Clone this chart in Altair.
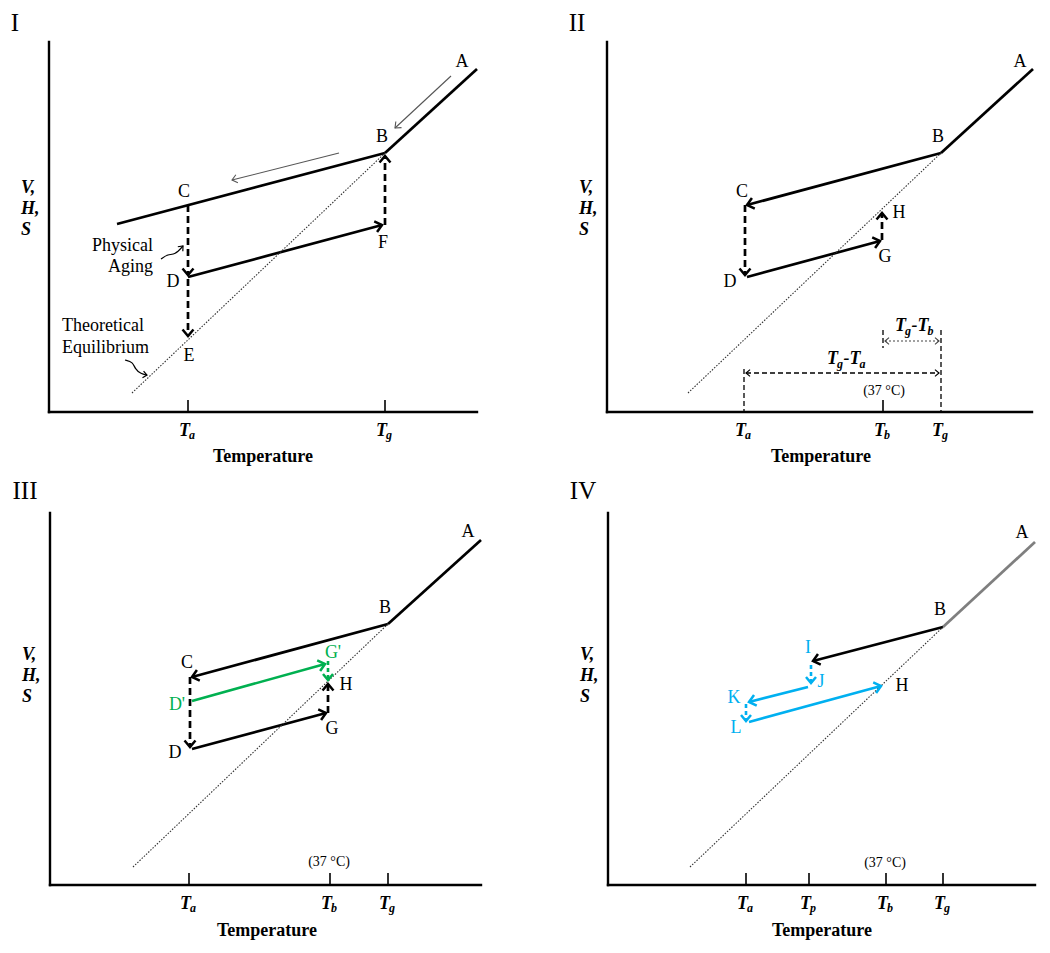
import math
import altair as alt
import pandas as pd

FONT = "Liberation Serif"
BLACK, GREEN, CYAN, GREY, THIN = "#000000", "#00B050", "#00B0F0", "#7F7F7F", "#555555"

CHART_W, CHART_H = 1034, 937

# ---- panel frames (global units) -------------------------------------------
PANELS = ["I", "II", "III", "IV"]
ORIGIN_X = [41, 599, 42, 600]
ORIGIN_Y = [533, 533, 60, 60]
Y_AXIS_TOP = [370, 370, 372, 372]
X_AXIS_END = [428, 425, 431, 427]
TEMP_TITLE_Y = [-50, -50, -51, -51]
ROMAN_XY = [(-34, 381), (-30, 381), (-25, 386), (-25, 386)]
VHS_Y = [[224, 203, 182], [224, 203, 182], [230, 209, 188], [230, 209, 188]]

# ---- temperature ticks ------------------------------------------------------
TICK_POS = {
    "I": [("a", 139), ("g", 336)],
    "II": [("a", 137), ("b", 276), ("g", 334)],
    "III": [("a", 139), ("b", 280), ("g", 338)],
    "IV": [("a", 138), ("p", 201), ("b", 278), ("g", 335)],
}
SOLID_TICKS = {"I": ["a", "g"], "II": ["b"], "III": ["a", "b", "g"], "IV": ["a", "p", "b", "g"]}
TICK_LEN = 12

# ---- path segments: (x1, y1, x2, y2, style, heads) ---------------------------
SEG = {
    "I": [
        (68, 188, 336, 259, "solid", "none"),
        (336, 259, 428, 343, "solid", "none"),
        (139, 135, 333, 187, "solid", "end"),
        (139, 207, 139, 137, "dash", "end"),
        (139, 133, 139, 76, "dash", "end"),
        (336, 187, 336, 256, "dash", "end"),
        (83, 19, 336, 259, "eq", "none"),
        (402, 336, 346, 284, "thin", "end"),
        (290, 259, 183, 232, "thin", "end"),
    ],
    "II": [
        (334, 259, 426, 343, "solid", "none"),
        (334, 259, 140, 207, "solid", "end"),
        (138, 207, 138, 137, "dash", "end"),
        (140, 135, 273, 171, "solid", "end"),
        (275, 172, 275, 199, "dash", "end"),
        (81, 19, 334, 259, "eq", "none"),
        (276, 82, 276, 64, "dimdash", "none"),
        (334, 82, 334, 0, "dimdash", "none"),
        (137, 43, 137, 0, "dimdash", "none"),
        (139, 39, 332, 39, "dimdash", "both"),
        (278, 71, 332, 71, "dimdot", "both"),
    ],
    "III": [
        (338, 261, 431, 345, "solid", "none"),
        (338, 261, 142, 208, "solid", "end"),
        (140, 208, 140, 138, "dash", "end"),
        (142, 136, 276, 172, "solid", "end"),
        (278, 172, 278, 201, "dash", "end"),
        (83, 18, 338, 261, "eq", "none"),
        (142, 184, 275, 221, "green", "end"),
        (278, 224, 278, 205, "greendash", "end"),
    ],
    "IV": [
        (335, 258, 427, 343, "grey", "none"),
        (335, 258, 205, 224, "solid", "end"),
        (203, 220, 203, 202, "cyandash", "end"),
        (200, 198, 141, 183, "cyan", "end"),
        (138, 181, 138, 164, "cyandash", "end"),
        (141, 163, 273, 199, "cyan", "end"),
        (82, 18, 335, 258, "eq", "none"),
    ],
}

# style -> colour, width, dash, arrow-head size, head width
STYLES = {
    "axis": (BLACK, 2.4, (), 0, 0),
    "tick": (BLACK, 1.6, (), 0, 0),
    "solid": (BLACK, 2.7, (), 120, 2.5),
    "dash": (BLACK, 2.7, (7, 4), 120, 2.5),
    "eq": ("#333333", 1.1, (1.5, 1.5), 0, 0),
    "thin": (THIN, 1.1, (), 70, 1.1),
    "dimdash": (BLACK, 1.3, (5, 3), 45, 1.2),
    "dimdot": ("#444444", 1.2, (2, 2), 45, 1.1),
    "green": (GREEN, 2.6, (), 120, 2.5),
    "greendash": (GREEN, 2.6, (4, 3), 100, 2.5),
    "cyan": (CYAN, 2.6, (), 120, 2.5),
    "cyandash": (CYAN, 2.6, (4, 3), 100, 2.5),
    "grey": (GREY, 2.7, (), 0, 0),
    "curl": (BLACK, 1.2, (), 45, 1.2),
}

# ---- curly pointer arrows (panel I) ---------------------------------------
CURLS = {
    "phys": [(112, 153), (119, 158), (126, 157), (134, 166)],
    "theo": [(76, 52), (84, 50), (86, 43), (92, 38), (98, 37)],
}

# ---- point labels: (panel, x, y, text, colour) -----------------------------
LETTERS = [
    ("I", 413, 350, "A", BLACK), ("I", 333, 275, "B", BLACK), ("I", 135, 220, "C", BLACK),
    ("I", 124, 130, "D", BLACK), ("I", 140, 56, "E", BLACK), ("I", 334, 169, "F", BLACK),
    ("II", 413, 350, "A", BLACK), ("II", 331, 275, "B", BLACK), ("II", 135, 220, "C", BLACK),
    ("II", 123, 130, "D", BLACK), ("II", 278, 155, "G", BLACK), ("II", 292, 199, "H", BLACK),
    ("III", 418, 353, "A", BLACK), ("III", 335, 277, "B", BLACK), ("III", 137, 222, "C", BLACK),
    ("III", 125, 132, "D", BLACK), ("III", 282, 156, "G", BLACK), ("III", 296, 200, "H", BLACK),
    ("III", 127, 180, "D'", GREEN), ("III", 283, 232, "G'", GREEN),
    ("IV", 414, 352, "A", BLACK), ("IV", 332, 275, "B", BLACK), ("IV", 294, 199, "H", BLACK),
    ("IV", 200, 237, "I", CYAN), ("IV", 213, 203, "J", CYAN),
    ("IV", 126, 187, "K", CYAN), ("IV", 128, 157, "L", CYAN),
]
NOTES = [  # panel, x, y, text, align
    ("I", 104, 166, "Physical", "right"), ("I", 104, 145, "Aging", "right"),
    ("I", 13, 86, "Theoretical", "left"), ("I", 13, 64, "Equilibrium", "left"),
]
TEMP_37 = [("II", 277, 17), ("III", 279, 19), ("IV", 277, 18)]
DIM_LABELS = [("II", 288, 81, "g", "b"), ("II", 220, 48, "g", "a")]

ARROW_PATH = "M-1.2,-1L0,0L-1.2,1"

# ---------------------------------------------------------------------------
idx = {p: i for i, p in enumerate(PANELS)}


def gxy(panel, x, y):
    i = idx[panel]
    return ORIGIN_X[i] + x, ORIGIN_Y[i] + y


seg_rows, head_rows, text_rows, line_rows = [], [], [], []


def add_seg(panel, x1, y1, x2, y2, style, heads="none", layer=None):
    col, w, dash, hs, hw = STYLES[style]
    a = gxy(panel, x1, y1)
    b = gxy(panel, x2, y2)
    seg_rows.append(dict(gx=a[0], gy=a[1], gx2=b[0], gy2=b[1], color=col, width=w,
                         dash=layer or ("d" + "_".join(str(v) for v in dash) if dash else "solid")))
    if heads in ("end", "both"):
        add_head(b, (b[0] - a[0], b[1] - a[1]), col, hs, hw)
    if heads == "both":
        add_head(a, (a[0] - b[0], a[1] - b[1]), col, hs, hw)


def add_head(pt, vec, col, size, w):
    ang = math.degrees(math.atan2(-vec[1], vec[0])) % 360
    head_rows.append(dict(gx=pt[0], gy=pt[1], ang=ang, color=col, size=size, width=w))


def add_text(panel, x, y, s, size, color=BLACK, weight="normal", style="normal",
             align="center", baseline="middle"):
    g = gxy(panel, x, y)
    text_rows.append(dict(gx=g[0], gy=g[1], text=s, size=size, color=color, weight=weight,
                          fstyle=style, align=align, baseline=baseline))


for i, p in enumerate(PANELS):
    add_seg(p, 0, 0, 0, Y_AXIS_TOP[i], "axis", layer="axis")
    add_seg(p, 0, 0, X_AXIS_END[i], 0, "axis", layer="axis")
    for name, t in TICK_POS[p]:
        if name in SOLID_TICKS[p]:
            add_seg(p, t, 0, t, TICK_LEN, "tick")
        add_text(p, t + 2, -24, "T", 18, weight="bold", style="italic", align="right",
                 baseline="alphabetic")
        add_text(p, t + 1, -27, name, 12, weight="bold", style="italic", align="left",
                 baseline="alphabetic")
    for s in SEG[p]:
        add_seg(p, *s)
    add_text(p, 214 if i != 2 else 217, TEMP_TITLE_Y[i], "Temperature", 18, weight="bold",
             baseline="alphabetic")
    for lab, yy in zip(["V,", "H,", "S"], VHS_Y[i]):
        add_text(p, -28, yy, lab, 18, weight="bold", style="italic", align="left")
    rx, ry = ROMAN_XY[i]
    add_text(p, rx, ry, p, 25, baseline="alphabetic")

for p, x, y, s, c in LETTERS:
    add_text(p, x, y, s, 18, color=c)
for p, x, y, s, al in NOTES:
    add_text(p, x, y, s, 18, align=al)
for p, x, y in TEMP_37:
    add_text(p, x, y, "(37 °C)", 14, baseline="alphabetic")
for p, x, y, s1, s2 in DIM_LABELS:
    parts = [("T", False), (s1, True), ("-", False), ("T", False), (s2, True)]
    cx = x
    for t, sub in parts:
        if sub:
            add_text(p, cx - 1, y - 4, t, 12, weight="bold", style="italic", align="left",
                     baseline="alphabetic")
            cx += 5.5
        else:
            add_text(p, cx, y, t, 18, weight="bold", style="italic", align="left",
                     baseline="alphabetic")
            cx += 11 if t == "T" else 6

for k, pts in CURLS.items():
    for j, (x, y) in enumerate(pts):
        g = gxy("I", x, y)
        line_rows.append(dict(gx=g[0], gy=g[1], id=k, ord=j))
    a = gxy("I", *pts[-2])
    b = gxy("I", *pts[-1])
    col, w, dash, hs, hw = STYLES["curl"]
    add_head(b, (b[0] - a[0], b[1] - a[1]), col, hs, hw)

segs = pd.DataFrame(seg_rows)
heads = pd.DataFrame(head_rows)
texts = pd.DataFrame(text_rows)
curls = pd.DataFrame(line_rows)

XS = alt.Scale(domain=[0, CHART_W], nice=False, zero=False)
YS = alt.Scale(domain=[0, CHART_H], nice=False, zero=False)
X = alt.X("gx:Q", scale=XS, axis=None)
Y = alt.Y("gy:Q", scale=YS, axis=None)

DASHES = {
    "axis": ([], "square"),
    "solid": ([], "butt"),
}
layers = []
for key in segs["dash"].unique():
    sub = segs[segs["dash"] == key]
    if key in DASHES:
        dash, cap = DASHES[key]
    else:
        dash, cap = [float(v) for v in key[1:].split("_")], "butt"
    kw = dict(strokeCap=cap)
    if dash:
        kw["strokeDash"] = dash
    layers.append(
        alt.Chart(sub).mark_rule(**kw).encode(
            x=X, y=Y, x2="gx2:Q", y2="gy2:Q",
            color=alt.Color("color:N", scale=None),
            strokeWidth=alt.StrokeWidth("width:Q", scale=None),
        )
    )

layers.append(
    alt.Chart(curls).mark_line(interpolate="basis", strokeWidth=1.2, color=BLACK).encode(
        x=X, y=Y, detail="id:N", order="ord:Q"
    )
)

layers.append(
    alt.Chart(heads).mark_point(shape=ARROW_PATH, filled=False, opacity=1,
                                strokeJoin="miter", strokeCap="butt").encode(
        x=X, y=Y,
        angle=alt.Angle("ang:Q", scale=None),
        size=alt.Size("size:Q", scale=None),
        color=alt.Color("color:N", scale=None),
        strokeWidth=alt.StrokeWidth("width:Q", scale=None),
    )
)

for (wt, st, al, bl), sub in texts.groupby(["weight", "fstyle", "align", "baseline"]):
    layers.append(
        alt.Chart(sub).mark_text(font=FONT, fontWeight=wt, fontStyle=st, align=al,
                                 baseline=bl).encode(
            x=X, y=Y, text="text:N",
            size=alt.Size("size:Q", scale=None),
            color=alt.Color("color:N", scale=None),
        )
    )

chart = alt.layer(*layers).properties(
    width=CHART_W, height=CHART_H, padding=0,
    autosize=alt.AutoSizeParams(type="none"),
).configure_view(stroke=None)

chart.save("out.html", embed_options={"renderer": "svg", "actions": False})
